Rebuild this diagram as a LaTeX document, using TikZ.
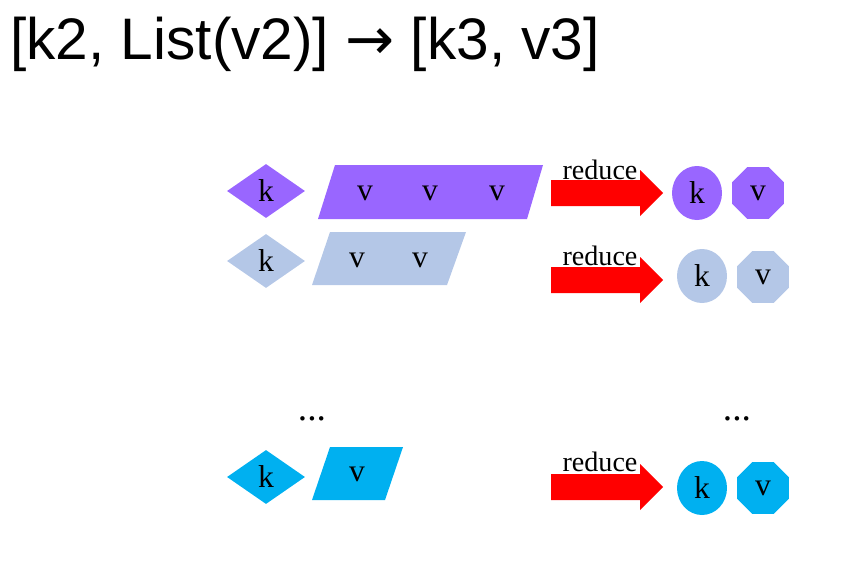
\documentclass[tikz,border=0pt]{standalone}
\usepackage{fontspec}
\setmainfont{Liberation Serif}
\newfontfamily\titlefont{Liberation Sans}
\newfontfamily\symfont{DejaVu Sans}
\usetikzlibrary{shapes.geometric}
\definecolor{cA}{HTML}{9966FF}
\definecolor{cB}{HTML}{B4C7E7}
\definecolor{cC}{HTML}{00B0F0}
\begin{document}
\begin{tikzpicture}[x=0.03cm,y=-0.03cm,
  lbl/.style={font=\fontsize{27}{27}\selectfont,inner sep=0},
  dia/.style={diamond,minimum width=2.34cm,minimum height=1.62cm,inner sep=0,font=\fontsize{27}{27}\selectfont},
  circ/.style={ellipse,minimum width=1.5cm,minimum height=1.62cm,inner sep=0,font=\fontsize{27}{27}\selectfont},
  oct/.style={regular polygon,regular polygon sides=8,minimum size=1.68cm,inner sep=0,font=\fontsize{27}{27}\selectfont},
  rtext/.style={font=\fontsize{24}{24}\selectfont,inner sep=0}]
\useasboundingbox (0,0) rectangle (853,562);
\node[font=\titlefont\fontsize{50}{50}\selectfont,anchor=west,inner sep=0] (title) at (10,44) {[k2, List(v2)] {\symfont →} [k3, v3]};
\newcommand\redarrow[2]{\fill[red] (551,#1-13) -- (640,#1-13) -- (640,#1-23) -- (663,#1) -- (640,#1+23) -- (640,#1+13) -- (551,#1+13) -- cycle;
  \coordinate (#2) at (607,#1);}
% row 1
\node[dia,fill=cA] (d1) at (266,191) {k};
\fill[cA] (335,165) -- (543,165) -- (527,219) -- (318,219) -- cycle;
\node[lbl] (v11) at (365,193) {v};
\node[lbl] (v12) at (430,193) {v};
\node[lbl] (v13) at (497,193) {v};
\redarrow{193}{a1}
\node[rtext] (r1) at (600,170) {reduce};
\node[circ,fill=cA] (c1) at (697,193) {k};
\node[oct,fill=cA] (o1) at (758,193) {v};
% row 2
\node[dia,fill=cB] (d2) at (266,261) {k};
\fill[cB] (330,232) -- (466,232) -- (447,285) -- (312,285) -- cycle;
\node[lbl] (v21) at (357,260) {v};
\node[lbl] (v22) at (420,260) {v};
\redarrow{280}{a2}
\node[rtext] (r2) at (600,256) {reduce};
\node[circ,fill=cB] (c2) at (702,276) {k};
\node[oct,fill=cB] (o2) at (763,277) {v};
% dots
\node[font=\fontsize{32}{32}\selectfont,inner sep=0] (dl) at (312,419) {...};
\node[font=\fontsize{32}{32}\selectfont,inner sep=0] (dr) at (737,419) {...};
% row 3
\node[dia,fill=cC] (d3) at (266,477) {k};
\fill[cC] (330,447) -- (403,447) -- (385,500) -- (312,500) -- cycle;
\node[lbl] (v31) at (357,474) {v};
\redarrow{487}{a3}
\node[rtext] (r3) at (600,462) {reduce};
\node[circ,fill=cC] (c3) at (702,488) {k};
\node[oct,fill=cC] (o3) at (763,488) {v};
\end{tikzpicture}
\end{document}
